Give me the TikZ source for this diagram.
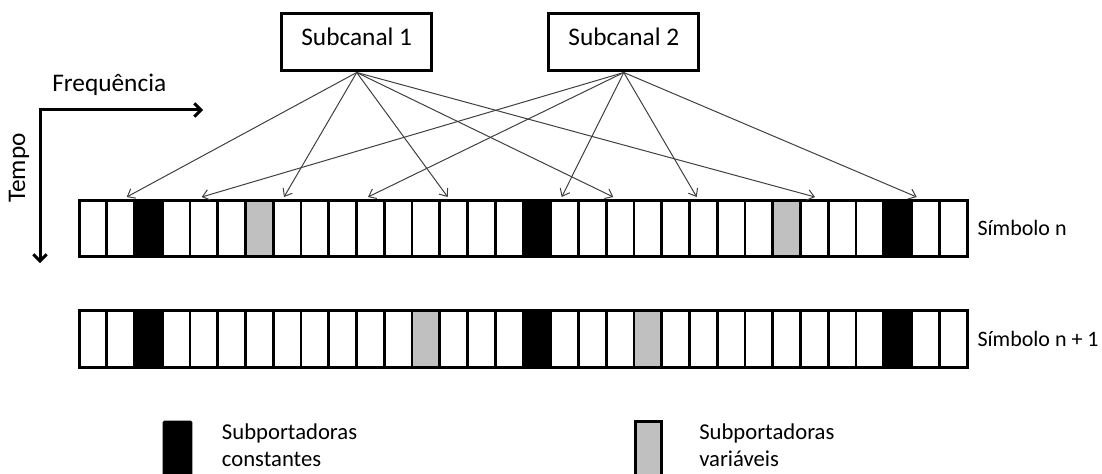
\documentclass[tikz,border=0pt]{standalone}
\usepackage{fontspec}
\setmainfont{Carlito}
\usetikzlibrary{arrows.meta}
\definecolor{cgray}{HTML}{C0C0C0}
\definecolor{conncol}{HTML}{404040}
\tikzset{
  chanbox/.style={draw, line width=2.25pt, minimum width=112.5pt, minimum height=42.75pt,
    inner sep=0pt, font=\fontsize{19}{22}\selectfont, text height=12.2pt, text depth=7.4pt},
  cellbox/.style={draw, line width=1.9pt, minimum width=20.81pt, minimum height=42.5pt,
    inner sep=0pt, outer sep=0pt},
  rowframe/.style={draw, line width=2.25pt},
  conn/.style={draw=conncol, line width=0.75pt, -{Straight Barb[length=5pt,width=8pt]}},
  axis/.style={draw, line width=2.25pt, {Straight Barb[length=5pt,width=10pt]}-{Straight Barb[length=5pt,width=10pt]}},
  bigtext/.style={inner sep=0pt, font=\fontsize{19}{22}\selectfont},
  symtext/.style={inner sep=0pt, font=\fontsize{16.5}{20}\selectfont, anchor=base west},
  legtext/.style={inner sep=0pt, font=\fontsize{17}{20}\selectfont, anchor=base west},
}
\begin{document}
\begin{tikzpicture}[x=0.75pt, y=-0.75pt]
\useasboundingbox (0,0) rectangle (1102,474);
\clip (0,0) rectangle (1102,474);

% sub-channel boxes
\node[chanbox] (s1) at (356.7,42.5) {Subcanal 1};
\node[chanbox] (s2) at (623.8,42.5) {Subcanal 2};

% axes
\coordinate (ax0) at (40,110);
\coordinate (axf) at (203,110);
\coordinate (axt) at (40,263);
\draw[axis] (axf) -- (ax0) -- (axt);
\node[bigtext, anchor=base west] (freq) at (52,91.7) {Frequência};
\node[bigtext, rotate=90] (tempo) at (19,168) {Tempo};

% rows of subcarriers
\foreach \rw/\ry/\ga/\gb in {1/228.35/6/25, 2/339/12/20}{
  \foreach \i in {0,...,31}{
    \xdef\fc{white}
    \ifnum\i=2 \xdef\fc{black}\fi
    \ifnum\i=16 \xdef\fc{black}\fi
    \ifnum\i=29 \xdef\fc{black}\fi
    \ifnum\i=\ga \xdef\fc{cgray}\fi
    \ifnum\i=\gb \xdef\fc{cgray}\fi
    \node[cellbox, fill=\fc] (r\rw c\i) at ({79+27.75*(\i+0.5)}, \ry) {};
  }
  \draw[rowframe] (r\rw c0.north west) rectangle (r\rw c31.south east);
}

\node[symtext] (symn) at (977.3,235.7) {Símbolo n};
\node[symtext] (symn1) at (977.3,346.7) {Símbolo n + 1};

% arrow targets on the top of row 1
\coordinate (t1) at (126.7,197);
\coordinate (t2) at (201.7,197);
\coordinate (t3) at (284,197);
\coordinate (t4) at (368,197);
\coordinate (t5) at (447.7,197);
\coordinate (t6) at (561.7,197);
\coordinate (t7) at (613.3,197);
\coordinate (t8) at (696.7,197);
\coordinate (t9) at (815,197);
\coordinate (t10) at (916.7,197);

\foreach \t in {t1,t3,t5,t7,t9} \draw[conn] (s1.south) -- (\t);
\foreach \t in {t2,t4,t6,t8,t10} \draw[conn] (s2.south) -- (\t);

% legend
\node[draw=black, fill=black, line width=1pt, minimum width=21.4pt, minimum height=47.5pt,
  inner sep=0pt, rounded corners=1pt] (legk) at (177.5,452.9) {};
\node[legtext] (legk1) at (221.7,439) {Subportadoras};
\node[legtext] (legk2) at (221.7,466) {constantes};
\node[draw=black, fill=cgray, line width=2.25pt, minimum width=20pt, minimum height=47.5pt,
  inner sep=0pt] (legg) at (648.5,453) {};
\node[legtext] (legg1) at (699,439) {Subportadoras};
\node[legtext] (legg2) at (699,466) {variáveis};
\end{tikzpicture}
\end{document}
